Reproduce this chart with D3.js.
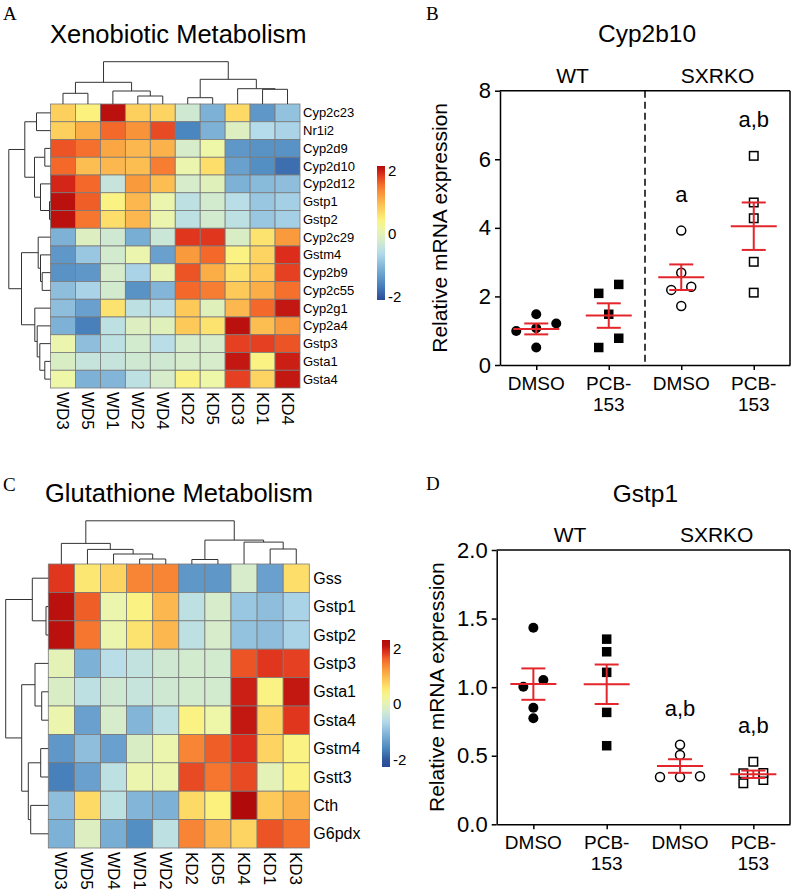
<!DOCTYPE html>
<html>
<head>
<meta charset="utf-8">
<script src="https://cdn.jsdelivr.net/npm/d3@7"></script>
<style>
  body { margin: 0; background: #fff; }
  text { font-family: "Liberation Sans", Arial, sans-serif; fill: #000; }
  .letter { font-family: "Liberation Serif", "Times New Roman", serif; }
</style>
</head>
<body>
<svg id="fig" width="796" height="893"></svg>
<script>
// ---------- panel A : xenobiotic metabolism ----------
const xenoGenes = ["Cyp2c23", "Nr1i2", "Cyp2d9", "Cyp2d10", "Cyp2d12", "Gstp1", "Gstp2", "Cyp2c29",
  "Gstm4", "Cyp2b9", "Cyp2c55", "Cyp2g1", "Cyp2a4", "Gstp3", "Gsta1", "Gsta4"];
const xenoSamples = ["WD3", "WD5", "WD1", "WD2", "WD4", "KD2", "KD5", "KD3", "KD1", "KD4"];
const xenoValues = [
  [0.8, 0.45, 2.1, 0.8, 0.75, -0.3, -1.1, 0.7, -1.4, -0.9],
  [0.8, 1.1, 1.6, 1.3, 1.75, -1.6, -1.1, -0.1, -0.6, -0.7],
  [1.7, 1.55, 1.15, 1.0, 1.05, -0.2, 0.15, -1.4, -1.45, -1.45],
  [1.6, 0.95, 1.0, 0.95, 1.45, 0.1, 0.65, -1.3, -1.5, -1.8],
  [1.95, 1.6, -0.4, 1.25, 0.95, -0.2, -0.05, -1.1, -1.0, -0.95],
  [2.1, 1.65, 0.4, 1.0, 0.1, -0.5, -0.25, -0.55, -0.85, -0.75],
  [2.1, 1.5, 0.65, 1.0, 0.1, -0.5, -0.25, -0.5, -0.85, -0.75],
  [-1.1, -0.1, -0.3, -1.15, -0.35, 1.85, 1.85, -0.15, 0.6, 1.25],
  [-1.4, -0.85, -0.25, 0.1, -1.3, 1.25, 1.6, 0.4, 0.75, 1.9],
  [-1.45, -1.4, -0.2, -0.7, 0.05, 1.7, 1.1, 0.6, 0.85, 1.8],
  [-0.95, -0.7, -0.25, -1.45, -1.05, 1.6, 1.45, 0.85, 1.1, 1.55],
  [-0.95, -1.3, 0.6, -0.5, -0.55, 0.85, -0.05, 1.0, 1.6, 2.05],
  [-1.1, -1.65, -0.5, -0.1, -0.05, 0.85, 0.6, 2.1, 0.95, 1.25],
  [0.1, -0.95, -0.5, -0.25, -0.55, -0.2, -0.2, 1.8, 1.8, 1.7],
  [-0.15, -0.4, -0.4, -0.3, -0.3, -0.2, -0.2, 2.05, 0.4, 2.0],
  [0.15, -1.1, -1.05, -0.5, -0.2, 0.4, 0.15, 1.8, 0.75, 2.05]
];
// dendrograms as [left, right, merge height]
const xenoColTree = [
  [["WD3", "WD5", 10.7], ["WD1", ["WD2", "WD4", 8], 13], 21.7],
  [["KD2", "KD5", 6.3], ["KD3", ["KD1", "KD4", 14.7], 15.3], 24.7],
  42.3];
const xenoRowTree = [
  [["Cyp2c23", "Nr1i2", 14], [["Cyp2d9", "Cyp2d10", 5.7], ["Cyp2d12", ["Gstp1", "Gstp2", 1], 10], 16], 25.7],
  [["Cyp2c29", ["Gstm4", ["Cyp2b9", "Cyp2c55", 8.3], 10], 12.3],
   ["Cyp2g1", ["Cyp2a4", ["Gstp3", ["Gsta1", "Gsta4", 5.7], 10.7], 13.3], 15.7], 29],
  41.7];
const xenoLegendRange = [-2.1, 2.15];

// ---------- panel C : glutathione metabolism ----------
const gshGenes = ["Gss", "Gstp1", "Gstp2", "Gstp3", "Gsta1", "Gsta4", "Gstm4", "Gstt3", "Cth", "G6pdx"];
const gshSamples = ["WD3", "WD5", "WD4", "WD1", "WD2", "KD2", "KD5", "KD4", "KD1", "KD3"];
const gshValues = [
  [1.85, 0.55, 0.75, 1.4, 1.4, -1.4, -1.4, -0.2, -1.3, 0.65],
  [2.1, 1.65, 0.1, 0.4, 1.0, -0.5, -0.2, -0.85, -0.95, -0.7],
  [2.1, 1.5, 0.1, 0.6, 1.0, -0.5, -0.2, -0.9, -0.95, -0.7],
  [0.0, -1.1, -0.55, -0.45, -0.3, -0.25, -0.25, 1.7, 1.85, 1.8],
  [-0.15, -0.5, -0.3, -0.4, -0.3, -0.25, -0.25, 2.0, 0.4, 2.05],
  [0.1, -1.3, -0.2, -1.05, -0.5, 0.4, 0.15, 2.05, 0.75, 1.85],
  [-1.4, -0.95, -1.3, -0.15, 0.1, 1.4, 1.65, 1.9, 0.75, 0.4],
  [-1.65, -1.3, -0.5, 0.1, 0.1, 1.75, 1.5, 1.75, 0.0, 0.4],
  [-0.95, 0.7, -0.5, -1.05, -1.1, 0.7, 0.45, 2.15, 0.85, 1.05],
  [-1.1, -0.1, -1.15, -1.5, -0.5, 1.4, 1.0, 0.75, 1.7, 1.55]
];
const gshColTree = [
  ["WD3", ["WD5", ["WD4", ["WD1", "WD2", 5], 10], 14.6], 20.6],
  [["KD2", "KD5", 4.5], ["KD4", ["KD1", "KD3", 15], 21.9], 23.9],
  43.2];
const gshRowTree = [
  ["Gss", ["Gstp1", "Gstp2", 2.3], 16],
  [["Gstp3", ["Gsta1", "Gsta4", 6.6], 13.3], [["Gstm4", "Gstt3", 7.6], ["Cth", "G6pdx", 17.6], 20], 26.6],
  42.6];
const gshLegendRange = [-2.25, 2.3];

const legendTicks = [2, 0, -2];

// ---------- panels B and D : qPCR dot plots ----------
const treatments = ["DMSO", "PCB-153", "DMSO", "PCB-153"];
const strains = ["WT", "SXRKO"];

const cyp2b10WtDmso = [0.51, 0.99, 1.07, 1.21, 1.48];
const cyp2b10WtPcb = [0.51, 0.78, 1.48, 2.09, 2.35];
const cyp2b10KoDmso = [1.72, 2.19, 2.28, 2.69, 3.92];
const cyp2b10KoPcb = [2.11, 3.01, 4.28, 4.74, 6.10];
const cyp2b10Ticks = [0, 2, 4, 6, 8];
const cyp2b10Marks = ["", "", "a", "a,b"];

const gstp1WtDmso = [0.773, 0.85, 1.003, 1.052, 1.433];
const gstp1WtPcb = [0.573, 0.816, 1.108, 1.258, 1.35];
const gstp1KoDmso = [0.345, 0.345, 0.35, 0.505, 0.58];
const gstp1KoPcb = [0.299, 0.323, 0.372, 0.374, 0.456];
const gstp1Ticks = [0, 0.5, 1.0, 1.5, 2.0];
const gstp1Marks = ["", "", "a,b", "a,b"];

// ---------------------------------------------------
const svg = d3.select("#fig");

const heatStops = [-2.1, -1.6, -1.1, -0.6, -0.2, 0.15, 0.45, 0.8, 1.2, 1.6, 1.9, 2.15];
const heatColors = ["#2a4b97", "#4a86bf", "#7db1d6", "#b5dceb", "#d6ecca", "#eef6a8",
  "#fcf17c", "#fdcf5c", "#faa13f", "#f4682a", "#dc2c1c", "#b10a0a"];
const heatColor = d3.scaleLinear().domain(heatStops).range(heatColors)
  .interpolate(d3.interpolateRgb).clamp(true);

function layoutTree(node, pos) {
  if (typeof node === "string") return { x: pos(node), h: 0 };
  const l = layoutTree(node[0], pos), r = layoutTree(node[1], pos);
  return { x: (l.x + r.x) / 2, h: node[2], kids: [l, r] };
}

function treeSegments(n, out) {
  if (!n.kids) return out;
  n.kids.forEach(k => { out.push([k.x, k.h, k.x, n.h]); treeSegments(k, out); });
  out.push([n.kids[0].x, n.h, n.kids[1].x, n.h]);
  return out;
}

function drawHeatmap(cfg) {
  const g = svg.append("g");
  const b = cfg.box;
  const x = d3.scaleBand().domain(cfg.samples).range([b.x, b.x + b.w]);
  const y = d3.scaleBand().domain(cfg.genes).range([b.y, b.y + b.h]);

  const cells = cfg.values.flatMap((row, i) => row.map((v, j) => ({ gene: cfg.genes[i], s: cfg.samples[j], v })));
  g.append("g").selectAll("rect").data(cells).join("rect")
    .attr("x", d => x(d.s)).attr("y", d => y(d.gene))
    .attr("width", x.bandwidth()).attr("height", y.bandwidth())
    .attr("fill", d => heatColor(d.v))
    .attr("stroke", "#7a7a7a").attr("stroke-width", 0.8);

  g.append("g").selectAll("text").data(cfg.genes).join("text")
    .attr("x", b.x + b.w + cfg.rowPad).attr("y", d => y(d) + y.bandwidth() / 2)
    .attr("dy", "0.35em").style("font-size", cfg.rowFont + "px").text(d => d);

  g.append("g").selectAll("text").data(cfg.samples).join("text")
    .attr("transform", d => `translate(${x(d) + x.bandwidth() / 2},${b.y + b.h + 4}) rotate(90)`)
    .attr("dy", "0.35em").style("font-size", cfg.colFont + "px").text(d => d);

  // column dendrogram
  const colRoot = layoutTree(cfg.colTree, s => x(s) + x.bandwidth() / 2);
  const hc = d3.scaleLinear().domain([0, colRoot.h]).range([b.y, b.y - colRoot.h]);
  g.append("g").selectAll("line").data(treeSegments(colRoot, [])).join("line")
    .attr("x1", d => d[0]).attr("y1", d => hc(d[1]))
    .attr("x2", d => d[2]).attr("y2", d => hc(d[3]))
    .attr("stroke", "#333").attr("stroke-width", 1);

  // row dendrogram
  const rowRoot = layoutTree(cfg.rowTree, s => y(s) + y.bandwidth() / 2);
  const hr = d3.scaleLinear().domain([0, rowRoot.h]).range([b.x, b.x - rowRoot.h]);
  g.append("g").selectAll("line").data(treeSegments(rowRoot, [])).join("line")
    .attr("y1", d => d[0]).attr("x1", d => hr(d[1]))
    .attr("y2", d => d[2]).attr("x2", d => hr(d[3]))
    .attr("stroke", "#333").attr("stroke-width", 1);

  // colour key
  const L = cfg.legend;
  const ly = d3.scaleLinear().domain(L.range).range([L.y + L.h, L.y]);
  const gradId = "grad" + cfg.id;
  const grad = svg.append("defs").append("linearGradient").attr("id", gradId)
    .attr("x1", 0).attr("y1", 0).attr("x2", 0).attr("y2", 1);
  grad.selectAll("stop").data(d3.range(0, 1.0001, 0.05)).join("stop")
    .attr("offset", t => t)
    .attr("stop-color", t => heatColor(L.range[1] - t * (L.range[1] - L.range[0])));
  g.append("rect").attr("x", L.x).attr("y", L.y).attr("width", 8).attr("height", L.h)
    .attr("fill", `url(#${gradId})`);
  g.append("g").selectAll("text").data(legendTicks).join("text")
    .attr("x", L.x + 11).attr("y", d => ly(d)).attr("dy", "0.35em")
    .style("font-size", "15px").text(d => d);

  g.append("text").attr("x", cfg.title.x).attr("y", cfg.title.y)
    .style("font-size", "25.5px").text(cfg.title.text);
}

function swarm(vals, y, gap, step) {
  const pts = vals.map(v => ({ v, py: y(v) })).sort((a, c) => c.py - a.py);
  const out = [];
  let cluster = [];
  const flush = () => {
    cluster.forEach((p, i) => out.push({ v: p.v, py: p.py, dx: (i - (cluster.length - 1) / 2) * step }));
    cluster = [];
  };
  pts.forEach(p => {
    if (cluster.length && cluster[0].py - p.py >= gap) flush();
    cluster.push(p);
  });
  flush();
  return out;
}

function drawDots(cfg) {
  const g = svg.append("g");
  const { left, right, top, bottom } = cfg;
  const y = d3.scaleLinear().domain([cfg.ticks[0], cfg.ticks[cfg.ticks.length - 1]]).range([bottom, top]);
  const x = d3.scalePoint().domain(d3.range(treatments.length)).range([left, right]).padding(0.5);
  const red = "#e3262b";

  // frame
  g.append("line").attr("x1", left).attr("x2", right).attr("y1", top).attr("y2", top)
    .attr("stroke", "#000").attr("stroke-width", 1.5);
  g.append("line").attr("x1", right).attr("x2", right).attr("y1", top).attr("y2", bottom)
    .attr("stroke", "#000").attr("stroke-width", 1.5);
  if (cfg.dashed) {
    const xm = (x(1) + x(2)) / 2;
    g.append("line").attr("x1", xm).attr("x2", xm).attr("y1", top).attr("y2", bottom)
      .attr("stroke", "#000").attr("stroke-width", 1.5).attr("stroke-dasharray", "7,4");
  }

  const ya = g.append("g").attr("transform", `translate(${left},0)`)
    .call(d3.axisLeft(y).tickValues(cfg.ticks).tickFormat(d3.format(cfg.fmt))
      .tickSize(5).tickSizeOuter(0).tickPadding(4));
  ya.selectAll("path,line").attr("stroke-width", 1.5);
  ya.selectAll("text").style("font-size", "22px").attr("font-family", null);

  const xa = g.append("g").attr("transform", `translate(0,${bottom})`)
    .call(d3.axisBottom(x).tickFormat("").tickSize(5).tickSizeOuter(0));
  xa.selectAll("path,line").attr("stroke-width", 1.5);

  // category labels
  const cat = g.append("g").selectAll("text").data(treatments).join("text")
    .attr("text-anchor", "middle").style("font-size", "19px");
  cat.each(function (d, i) {
    const parts = d.indexOf("-") > 0 ? [d.slice(0, d.indexOf("-") + 1), d.slice(d.indexOf("-") + 1)] : [d];
    d3.select(this).selectAll("tspan").data(parts).join("tspan")
      .attr("x", x(i)).attr("y", (p, k) => bottom + 25 + k * 20.5).text(p => p);
  });

  // strain labels
  g.append("g").selectAll("text").data(strains).join("text")
    .attr("x", (d, i) => (x(2 * i) + x(2 * i + 1)) / 2).attr("y", top - 8)
    .attr("text-anchor", "middle").style("font-size", "21px").text(d => d);

  g.append("text").attr("x", (left + right) / 2 + 2).attr("y", top - 48.5)
    .attr("text-anchor", "middle").style("font-size", "24.5px").text(cfg.title);

  g.append("text").attr("transform", `translate(${left - 53},${(top + bottom) / 2}) rotate(-90)`)
    .attr("text-anchor", "middle").style("font-size", "21px").text("Relative mRNA expression");

  cfg.groups.forEach((grp, i) => {
    const pts = swarm(grp.vals, y, 9.5, 20);
    const cx = x(i);
    const gg = g.append("g");
    if (grp.shape === "circle") {
      gg.selectAll("circle").data(pts).join("circle")
        .attr("cx", d => cx + d.dx).attr("cy", d => d.py).attr("r", grp.filled ? 5 : 4.5)
        .attr("fill", grp.filled ? "#000" : "#fff").attr("stroke", "#000")
        .attr("stroke-width", grp.filled ? 0 : 1.5);
    } else {
      const s = grp.filled ? 9.5 : 8.5;
      gg.selectAll("rect").data(pts).join("rect")
        .attr("x", d => cx + d.dx - s / 2).attr("y", d => d.py - s / 2)
        .attr("width", s).attr("height", s)
        .attr("fill", grp.filled ? "#000" : "#fff").attr("stroke", "#000")
        .attr("stroke-width", grp.filled ? 0 : 1.5);
    }
    const m = d3.mean(grp.vals);
    const sem = d3.deviation(grp.vals) / Math.sqrt(grp.vals.length);
    const eb = [
      [cx - 23, y(m), cx + 23, y(m)],
      [cx, y(m - sem), cx, y(m + sem)],
      [cx - 12, y(m + sem), cx + 12, y(m + sem)],
      [cx - 12, y(m - sem), cx + 12, y(m - sem)]
    ];
    gg.selectAll("line").data(eb).join("line")
      .attr("x1", d => d[0]).attr("y1", d => d[1]).attr("x2", d => d[2]).attr("y2", d => d[3])
      .attr("stroke", red).attr("stroke-width", 2);
    if (cfg.marks[i]) {
      gg.append("text").attr("x", cx).attr("y", y(d3.max(grp.vals)) - 29)
        .attr("text-anchor", "middle").style("font-size", "22px").text(cfg.marks[i]);
    }
  });
}

drawHeatmap({
  id: "A", genes: xenoGenes, samples: xenoSamples, values: xenoValues,
  colTree: xenoColTree, rowTree: xenoRowTree,
  box: { x: 50.5, y: 104, w: 249.5, h: 284 }, rowFont: 13, colFont: 17, rowPad: 3,
  legend: { x: 377, y: 166, h: 134, range: xenoLegendRange },
  title: { x: 50, y: 42.5, text: "Xenobiotic Metabolism" }
});

drawHeatmap({
  id: "C", genes: gshGenes, samples: gshSamples, values: gshValues,
  colTree: gshColTree, rowTree: gshRowTree,
  box: { x: 48.3, y: 564, w: 261, h: 284 }, rowFont: 16, colFont: 17, rowPad: 4,
  legend: { x: 382, y: 640, h: 127, range: gshLegendRange },
  title: { x: 45, y: 501.5, text: "Glutathione Metabolism" }
});

const shapes = [
  { shape: "circle", filled: true }, { shape: "square", filled: true },
  { shape: "circle", filled: false }, { shape: "square", filled: false }
];

drawDots({
  title: "Cyp2b10", left: 500, right: 790, top: 90.7, bottom: 365,
  ticks: cyp2b10Ticks, fmt: "d", dashed: true, marks: cyp2b10Marks,
  groups: [cyp2b10WtDmso, cyp2b10WtPcb, cyp2b10KoDmso, cyp2b10KoPcb].map((v, i) => ({ vals: v, ...shapes[i] }))
});

drawDots({
  title: "Gstp1", left: 496.7, right: 790, top: 550, bottom: 824.3,
  ticks: gstp1Ticks, fmt: ".1f", dashed: false, marks: gstp1Marks,
  groups: [gstp1WtDmso, gstp1WtPcb, gstp1KoDmso, gstp1KoPcb].map((v, i) => ({ vals: v, ...shapes[i] }))
});

// panel letters
svg.append("g").selectAll("text")
  .data([["A", 3, 20], ["B", 426, 20], ["C", 3, 491], ["D", 426, 490]])
  .join("text").attr("class", "letter")
  .attr("x", d => d[1]).attr("y", d => d[2]).style("font-size", "19px").text(d => d[0]);
</script>
</body>
</html>
